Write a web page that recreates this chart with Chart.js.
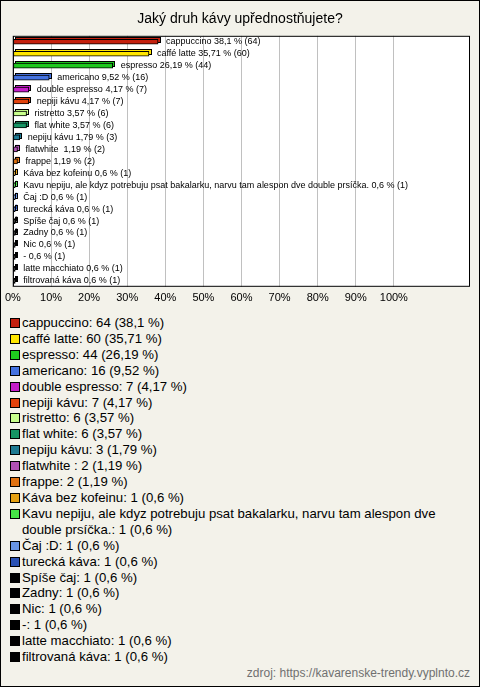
<!DOCTYPE html>
<html>
<head>
<meta charset="utf-8">
<script src="https://cdn.jsdelivr.net/npm/chart.js@4.4.1/dist/chart.umd.min.js"></script>
<style>
    html, body {
        margin: 0;
        padding: 0;
    }
    body {
        width: 480px;
        height: 687px;
        background: #f3f2ea;
        position: relative;
        overflow: hidden;
        font-family: "Liberation Sans", Arial, sans-serif;
    }
    .frame {
        position: absolute;
        left: 0; top: 0;
        width: 480px; height: 687px;
        box-sizing: border-box;
        border: 1px solid #000;
        pointer-events: none;
    }
    #chartBox {
        position: absolute;
        left: 0; top: 0;
    }
    #legend {
        position: absolute;
        left: 10px;
        top: 315px;
        width: 440px;
        font-size: 13.2px;
        line-height: 15.9px;
        color: #000;
    }
    .item {
        display: flex;
        align-items: flex-start;
    }
    .box {
        flex: none;
        width: 8px;
        height: 8px;
        border: 1px solid #000;
        margin: 3px 2px 0 0;
    }
    #source {
        position: absolute;
        right: 10px;
        top: 666px;
        font-size: 12px;
        color: #707070;
    }
</style>
</head>
<body>
<div id="chartBox"><canvas id="coffeeChart" width="480" height="310"></canvas></div>
<div id="legend"></div>
<div id="source">zdroj: https://kavarenske-trendy.vyplnto.cz</div>
<div class="frame"></div>

<script>
// ================= DATA =================

const categories = [
    "cappuccino", "caffé latte", "espresso", "americano", "double espresso",
    "nepiji kávu", "ristretto", "flat white", "nepiju kávu", "flatwhite ",
    "frappe", "Káva bez kofeinu",
    "Kavu nepiju, ale kdyz potrebuju psat bakalarku, narvu tam alespon dve double prsíčka.",
    "Čaj :D", "turecká káva", "Spíše čaj", "Zadny", "Nic", "-",
    "latte macchiato", "filtrovaná káva"
];

const counts = [64, 60, 44, 16, 7, 7, 6, 6, 3, 2, 2, 1, 1, 1, 1, 1, 1, 1, 1, 1, 1];

const percents = [38.1, 35.71, 26.19, 9.52, 4.17, 4.17, 3.57, 3.57, 1.79, 1.19, 1.19,
    0.6, 0.6, 0.6, 0.6, 0.6, 0.6, 0.6, 0.6, 0.6, 0.6];

const xTicks = [0, 10, 20, 30, 40, 50, 60, 70, 80, 90, 100];

const barColors = [
    "#c4200e", "#ffe600", "#1ec81e", "#4472e0", "#c41ec8", "#e2420c",
    "#c8ff8c", "#169464", "#1e7a92", "#b050b4", "#e07212", "#e4a012",
    "#46e446", "#6894e4", "#2a52b4",
    "#000000", "#000000", "#000000", "#000000", "#000000", "#000000"
];

const fmt = v => String(v).replace(".", ",");


// ================= PLUGINS =================

const DEPTH = 2;

// white plot area + back faces of the 3D bars
const plotBackground = {
    id: "plotBackground",
    beforeDraw(chart){
        const a = chart.chartArea;
        const ctx = chart.ctx;
        ctx.save();
        ctx.fillStyle = "#ffffff";
        ctx.fillRect(a.left, a.top, a.right - a.left, a.bottom - a.top);
        ctx.restore();
    },
    beforeDatasetsDraw(chart){
        const ctx = chart.ctx;
        const meta = chart.getDatasetMeta(0);
        ctx.save();
        meta.data.forEach((bar, i) => {
            const h = bar.height;
            ctx.fillStyle = barColors[i];
            ctx.strokeStyle = "#000";
            ctx.lineWidth = 1;
            ctx.fillRect(bar.base + DEPTH, bar.y - h / 2 - DEPTH, bar.x - bar.base, h);
            ctx.strokeRect(
                Math.round(bar.base + DEPTH) + 0.5,
                Math.round(bar.y - h / 2 - DEPTH) + 0.5,
                Math.round(bar.x - bar.base),
                Math.round(h)
            );
        });
        ctx.restore();
    }
};

// labels next to bars + frame of the plot
const barLabels = {
    id: "barLabels",
    afterDatasetsDraw(chart){
        const ctx = chart.ctx;
        const meta = chart.getDatasetMeta(0);
        ctx.save();
        ctx.font = "9px 'Liberation Sans', Arial, sans-serif";
        ctx.fillStyle = "#000";
        ctx.textBaseline = "middle";
        meta.data.forEach((bar, i) => {
            const text = categories[i] + " " + fmt(percents[i]) + " % (" + counts[i] + ")";
            ctx.fillText(text, bar.x + 8, bar.y);
        });

        const a = chart.chartArea;
        ctx.strokeStyle = "#000";
        ctx.lineWidth = 1;
        ctx.strokeRect(a.left + 0.5, a.top + 0.5, a.right - a.left - 1, a.bottom - a.top - 1);
        ctx.restore();
    }
};


// ================= CHART =================

Chart.defaults.font.family = "'Liberation Sans', Arial, sans-serif";
Chart.defaults.color = "#000";

const ctx = document.getElementById("coffeeChart").getContext("2d");

new Chart(ctx, {
    type: "bar",
    data: {
        labels: categories,
        datasets: [{
            data: percents,
            backgroundColor: barColors,
            borderColor: "#000",
            borderWidth: 1,
            borderSkipped: false,
            barThickness: 5
        }]
    },
    options: {
        indexAxis: "y",
        responsive: false,
        animation: false,
        layout: {
            padding: { left: 10, right: 10, bottom: 0 }
        },
        plugins: {
            legend: { display: false },
            tooltip: { enabled: false },
            title: {
                display: true,
                text: "Jaký druh kávy upřednostňujete?",
                color: "#000",
                font: { size: 14, weight: "normal" },
                padding: { top: 11, bottom: 8 }
            }
        },
        scales: {
            x: {
                min: 0,
                max: 120,
                afterBuildTicks(scale){
                    scale.ticks = xTicks.map(v => ({ value: v }));
                },
                border: { display: false },
                grid: {
                    color: "#c0c0c0",
                    drawTicks: false
                },
                ticks: {
                    padding: 5,
                    font: { size: 11 },
                    callback: v => v + "%"
                }
            },
            y: {
                display: false,
                grid: { display: false }
            }
        }
    },
    plugins: [plotBackground, barLabels]
});


// ================= LEGEND =================

const legend = document.getElementById("legend");

categories.forEach((name, i) => {
    const item = document.createElement("div");
    item.className = "item";

    const box = document.createElement("span");
    box.className = "box";
    box.style.background = barColors[i];

    const label = document.createElement("span");
    label.textContent = name + ": " + counts[i] + " (" + fmt(percents[i]) + " %)";

    item.appendChild(box);
    item.appendChild(label);
    legend.appendChild(item);
});
</script>
</body>
</html>
